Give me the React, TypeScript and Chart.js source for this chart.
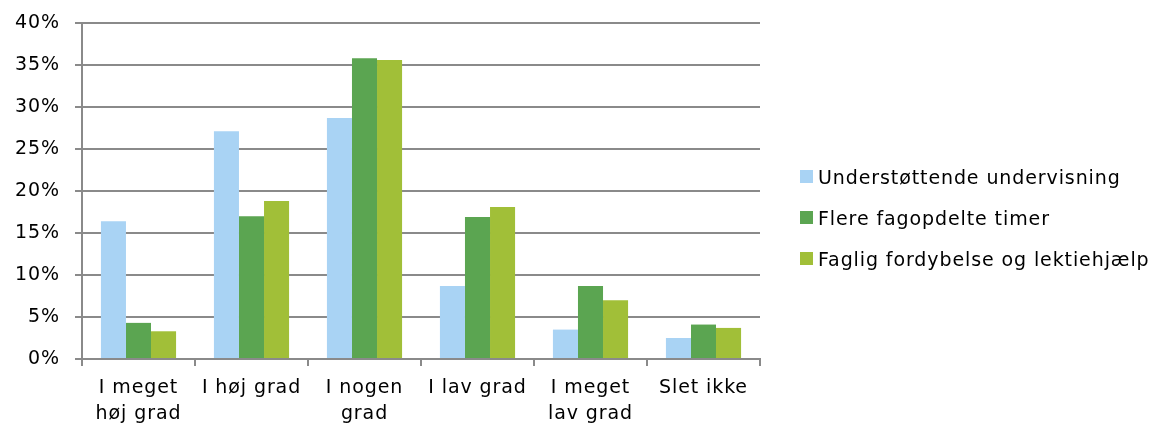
import React, { useEffect, useRef } from "react";
import { Chart, registerables } from "chart.js";

Chart.register(...registerables);

const categories: (string | string[])[] = [
  ["I meget", "høj grad"],
  "I høj grad",
  ["I nogen", "grad"],
  "I lav grad",
  ["I meget", "lav grad"],
  "Slet ikke",
];
const seriesNames = [
  "Understøttende undervisning",
  "Flere fagopdelte timer",
  "Faglig fordybelse og lektiehjælp",
];
const understottende = [16.4, 27.1, 28.7, 8.7, 3.5, 2.5];
const fagopdelte = [4.3, 17.0, 35.8, 16.9, 8.7, 4.1];
const fordybelse = [3.3, 18.8, 35.6, 18.1, 7.0, 3.7];
const colors = ["#A9D3F4", "#5BA551", "#A1BF38"];

const FONT = "'DejaVu Sans', Verdana, sans-serif";
const SPACING = "0.9px";

const spacingPlugin = {
  id: "letterSpacing",
  beforeDraw(chart: any) {
    chart.ctx.letterSpacing = SPACING;
  },
  beforeLayout(chart: any) {
    chart.ctx.letterSpacing = SPACING;
  },
};

export default function App() {
  const ref = useRef<HTMLCanvasElement | null>(null);
  useEffect(() => {
    document.body.style.margin = "0";
    const ctx = ref.current!;
    const chart = new Chart(ctx, {
      type: "bar",
      plugins: [spacingPlugin],
      data: {
        labels: categories,
        datasets: [understottende, fagopdelte, fordybelse].map((d, i) => ({
          label: seriesNames[i],
          data: d,
          backgroundColor: colors[i],
          borderWidth: 0,
          barPercentage: 1,
          categoryPercentage: 0.665,
        })),
      },
      options: {
        animation: false,
        responsive: false,
        maintainAspectRatio: false,
        layout: { padding: { top: 0, right: 400, left: 0, bottom: 0 } },
        plugins: { legend: { display: false }, tooltip: { enabled: false } },
        scales: {
          x: {
            grid: {
              display: true,
              drawOnChartArea: false,
              offset: true,
              color: "#8a8a8a",
              lineWidth: 2,
              tickLength: 7,
            },
            border: { color: "#8a8a8a", width: 2 },
            ticks: {
              color: "#000",
              font: { family: FONT, size: 19, lineHeight: 1.32 },
              padding: 10,
              maxRotation: 0,
              autoSkip: false,
            },
            afterFit: (s: any) => {
              s.height = 64;
            },
          },
          y: {
            min: 0,
            max: 40,
            ticks: {
              stepSize: 5,
              color: "#000",
              font: { family: FONT, size: 19, lineHeight: 0.84 },
              padding: 15,
              callback: (v: any) => v + "%",
            },
            grid: { color: "#8a8a8a", lineWidth: 2, tickLength: 7 },
            border: { color: "#8a8a8a", width: 2 },
            afterFit: (s: any) => {
              s.width = 82;
            },
          },
        },
      },
    });
    return () => chart.destroy();
  }, []);

  return (
    <div style={{ position: "relative", width: 1160, height: 423, overflow: "hidden" }}>
      <canvas ref={ref} width={1160} height={423} style={{ display: "block" }} />
      <div
        style={{
          position: "absolute",
          left: 800,
          top: 156,
          fontFamily: FONT,
          fontSize: 19,
          letterSpacing: SPACING,
        }}
      >
        {seriesNames.map((n, i) => (
          <div key={n} style={{ display: "flex", alignItems: "center", height: 41 }}>
            <span style={{ display: "inline-block", width: 13, height: 13, background: colors[i], marginRight: 5 }} />
            <span style={{ color: "#000", whiteSpace: "nowrap" }}>{n}</span>
          </div>
        ))}
      </div>
    </div>
  );
}
